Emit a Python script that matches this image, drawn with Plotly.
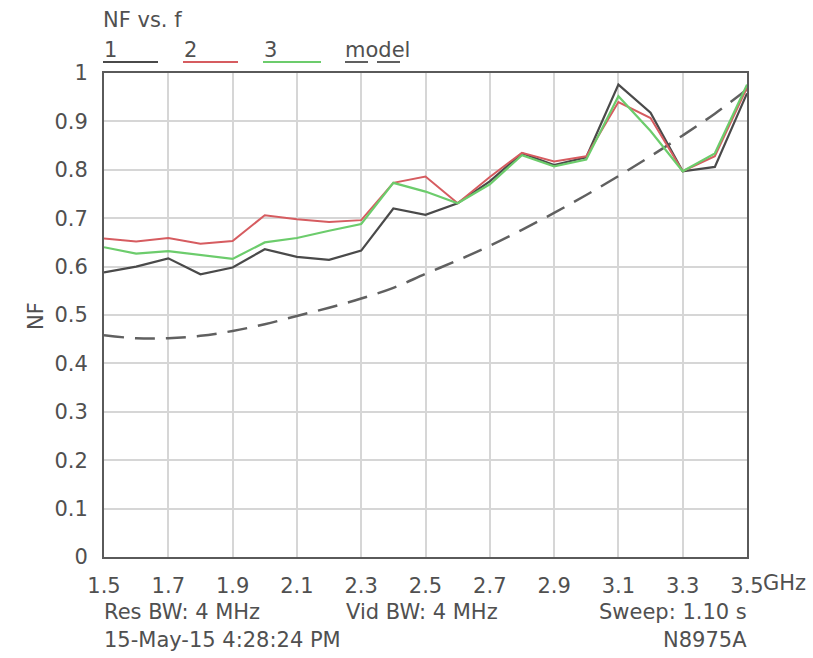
import plotly.graph_objects as go

# ---- data ----
freq_ghz = [1.5, 1.6, 1.7, 1.8, 1.9, 2.0, 2.1, 2.2, 2.3, 2.4, 2.5,
            2.6, 2.7, 2.8, 2.9, 3.0, 3.1, 3.2, 3.3, 3.4, 3.5]
nf_1 = [0.588, 0.600, 0.617, 0.584, 0.598, 0.636, 0.620, 0.614, 0.633, 0.720, 0.707,
        0.731, 0.776, 0.834, 0.810, 0.826, 0.976, 0.918, 0.797, 0.806, 0.958]
nf_2 = [0.658, 0.652, 0.659, 0.647, 0.653, 0.706, 0.698, 0.692, 0.696, 0.773, 0.786,
        0.731, 0.785, 0.835, 0.817, 0.828, 0.940, 0.907, 0.797, 0.828, 0.970]
nf_3 = [0.640, 0.627, 0.632, 0.624, 0.616, 0.650, 0.659, 0.674, 0.688, 0.773, 0.755,
        0.731, 0.770, 0.830, 0.807, 0.821, 0.952, 0.880, 0.797, 0.834, 0.976]
nf_model = [0.458, 0.452, 0.452, 0.457, 0.467, 0.481, 0.498, 0.515, 0.534, 0.556, 0.585,
            0.613, 0.643, 0.676, 0.711, 0.748, 0.787, 0.828, 0.871, 0.916, 0.966]

x_tickvals = [1.5, 1.7, 1.9, 2.1, 2.3, 2.5, 2.7, 2.9, 3.1, 3.3, 3.5]
x_ticktext = ["1.5", "1.7", "1.9", "2.1", "2.3", "2.5", "2.7", "2.9", "3.1", "3.3", "3.5"]
y_tickvals = [0, 0.1, 0.2, 0.3, 0.4, 0.5, 0.6, 0.7, 0.8, 0.9, 1]
y_ticktext = ["0", "0.1", "0.2", "0.3", "0.4", "0.5", "0.6", "0.7", "0.8", "0.9", "1"]

title_text = "NF vs. f"
series_names = ["1", "2", "3", "model"]
info_texts = ["Res BW: 4 MHz", "Vid BW: 4 MHz", "Sweep: 1.10 s",
              "15-May-15 4:28:24 PM", "N8975A"]

# ---- styling ----
W, H = 813, 658
L, R, T, B = 104, 66, 73, 101
FONT = "DejaVu Sans"
FS = 21
TXT = "#505050"
C1, C2, C3, CM = "#4a4a4a", "#d65c60", "#6ccc6c", "#606060"
DASH = "20px,11px"


def px(xp):
    return (xp - L) / (W - L - R)


def py(yp):
    return (H - B - yp) / (H - T - B)


fig = go.Figure()
fig.add_trace(go.Scatter(x=freq_ghz, y=nf_model, mode="lines", name="model",
                         line=dict(color=CM, width=2.5, dash=DASH, shape="spline")))
fig.add_trace(go.Scatter(x=freq_ghz, y=nf_1, mode="lines", name="1",
                         line=dict(color=C1, width=2.2)))
fig.add_trace(go.Scatter(x=freq_ghz, y=nf_2, mode="lines", name="2",
                         line=dict(color=C2, width=2)))
fig.add_trace(go.Scatter(x=freq_ghz, y=nf_3, mode="lines", name="3",
                         line=dict(color=C3, width=2.2)))

axis_common = dict(showgrid=True, gridcolor="#d6d6d6", gridwidth=2,
                   showline=True, linecolor="#5a5a5a", linewidth=2, mirror=True,
                   zeroline=False, ticks="outside", tickcolor="rgba(0,0,0,0)",
                   tickfont=dict(family=FONT, size=FS, color=TXT))

fig.update_xaxes(range=[1.5, 3.5], tickmode="array", tickvals=x_tickvals,
                 ticktext=x_ticktext, ticklen=9, **axis_common)
fig.update_yaxes(range=[0, 1], tickmode="array", tickvals=y_tickvals,
                 ticktext=y_ticktext, ticklen=10, **axis_common)

ann = []
shapes = []
# title
ann.append(dict(x=px(102), y=py(20), text=title_text, xanchor="left", yanchor="middle"))
# legend
leg = [(103, 158, C1), (183, 238, C2), (263, 321, C3)]
for name, (x0, x1, col) in zip(series_names[:3], leg):
    ann.append(dict(x=px(x0), y=py(50), text=name, xanchor="left", yanchor="middle"))
    shapes.append(dict(type="line", xref="paper", yref="paper", x0=px(x0), x1=px(x1),
                       y0=py(62), y1=py(62), line=dict(color=col, width=2)))
ann.append(dict(x=px(344), y=py(50), text=series_names[3], xanchor="left", yanchor="middle"))
for x0, x1 in [(345, 368), (377, 400)]:
    shapes.append(dict(type="line", xref="paper", yref="paper", x0=px(x0), x1=px(x1),
                       y0=py(62), y1=py(62), line=dict(color=CM, width=2)))
# axis title + GHz unit
ann.append(dict(x=px(36), y=py(316), text="NF", textangle=-90,
                xanchor="center", yanchor="middle"))
ann.append(dict(x=px(762), y=py(583), text="GHz", xanchor="left", yanchor="middle"))
# info texts
ann.append(dict(x=px(103), y=py(612), text=info_texts[0], xanchor="left", yanchor="middle"))
ann.append(dict(x=px(345), y=py(612), text=info_texts[1], xanchor="left", yanchor="middle"))
ann.append(dict(x=px(748), y=py(612), text=info_texts[2], xanchor="right", yanchor="middle"))
ann.append(dict(x=px(103), y=py(640), text=info_texts[3], xanchor="left", yanchor="middle"))
ann.append(dict(x=px(748), y=py(640), text=info_texts[4], xanchor="right", yanchor="middle"))

for a in ann:
    a.update(xref="paper", yref="paper", showarrow=False,
             font=dict(family=FONT, size=FS, color=TXT), borderpad=0)

fig.update_layout(width=W, height=H, margin=dict(l=L, r=R, t=T, b=B),
                  paper_bgcolor="white", plot_bgcolor="white", showlegend=False,
                  annotations=ann, shapes=shapes, font=dict(family=FONT, color=TXT))

fig.write_html("out.html", config={"displayModeBar": False},
               post_script="document.body.style.margin='0';document.body.style.overflow='hidden';")
